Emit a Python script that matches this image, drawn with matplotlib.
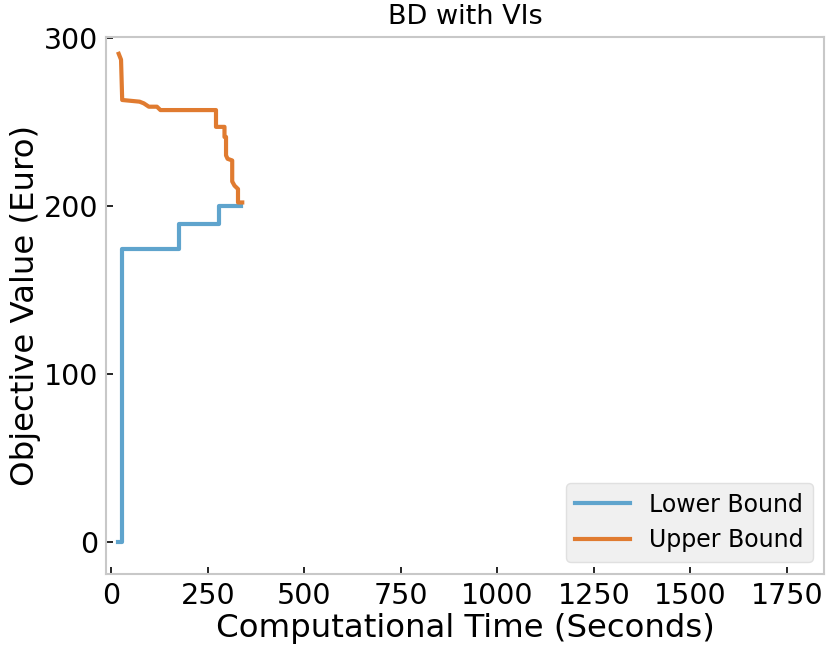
import matplotlib
matplotlib.use("Agg")
import matplotlib.pyplot as plt

# lower bound (seconds, euro)
lb_time = [18, 28, 28, 176, 176, 280, 280, 337]
lb_value = [0, 0, 174, 174, 189, 189, 200, 200]

# upper bound
ub_time = [19, 25, 28, 73, 84, 97, 118, 127, 271, 271, 293, 293, 297, 297,
           301, 313, 313, 319, 328, 328, 339]
ub_value = [290.5, 287, 263, 262, 261, 259, 259, 257, 257, 247, 247, 241, 241,
            230, 228, 227, 214.5, 212, 210, 202, 202]

x_ticks = [0, 250, 500, 750, 1000, 1250, 1500, 1750]
y_ticks = [0, 100, 200, 300]

fig, ax = plt.subplots(figsize=(8.31, 6.49), dpi=100)
fig.subplots_adjust(left=0.128, right=0.992, top=0.943, bottom=0.116)

ax.plot(lb_time, lb_value, color="#5fa4cd", lw=3, label="Lower Bound")
ax.plot(ub_time, ub_value, color="#e07b30", lw=3, label="Upper Bound")

ax.set_xlim(-13, 1847)
ax.set_ylim(-19, 300.5)
ax.set_xticks(x_ticks)
ax.set_yticks(y_ticks)
ax.tick_params(direction="in", labelsize=20.5, length=5, width=1.2, pad=6)
for s in ax.spines.values():
    s.set_color("#c8c8c8")
    s.set_linewidth(1.5)

ax.set_title("BD with VIs", fontsize=19.5, pad=9)
ax.set_xlabel("Computational Time (Seconds)", fontsize=23.3, labelpad=2)
ax.set_ylabel("Objective Value (Euro)", fontsize=23.3, labelpad=2)

leg = ax.legend(loc="lower right", fontsize=17, facecolor="#f0f0f0",
                edgecolor="#e0e0e0", framealpha=1, handlelength=2.3,
                borderaxespad=0.5)

fig.savefig("out.png", dpi=100)
